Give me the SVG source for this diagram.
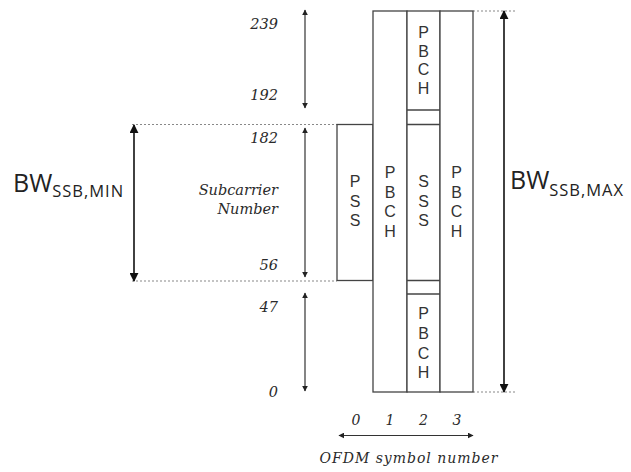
<svg xmlns="http://www.w3.org/2000/svg" width="631" height="472" viewBox="0 0 631 472">
<defs>
<marker id="ah" viewBox="0 0 10 10" refX="9" refY="5" markerWidth="6" markerHeight="6" orient="auto-start-reverse" markerUnits="userSpaceOnUse">
<path d="M0,0 L10,5 L0,10 z" fill="#222"/>
</marker>
<marker id="ahb" viewBox="0 0 10 10" refX="9" refY="5" markerWidth="9" markerHeight="9" orient="auto-start-reverse" markerUnits="userSpaceOnUse">
<path d="M0,0 L10,5 L0,10 z" fill="#111"/>
</marker>
</defs>
<style>
.box{fill:#fff;stroke:#444;stroke-width:1.3}
.sep{stroke:#444;stroke-width:1.3}
.dash{stroke:#888;stroke-width:1.2;stroke-dasharray:2,2;fill:none}
.ax{stroke:#333;stroke-width:1.2;fill:none}
.bw{stroke:#111;stroke-width:1.6;fill:none}
.lt{font-family:"Liberation Sans",Arial,sans-serif;font-size:16px;fill:#333;text-anchor:middle}
.num{font-family:"DejaVu Serif",serif;font-style:italic;font-size:14.5px;fill:#2a2a2a;text-anchor:end}
.sn{font-family:"DejaVu Serif",serif;font-style:italic;font-size:14.5px;fill:#2a2a2a;text-anchor:end}
.sym{font-family:"DejaVu Serif",serif;font-style:italic;font-size:14px;fill:#2a2a2a;text-anchor:middle}
.bwt{font-family:"Open Sans",sans-serif;font-size:25px;fill:#222}
.bws{font-size:16.5px}
</style>
<rect width="631" height="472" fill="#fff"/>

<g id="grid-dashes">
<line class="dash" x1="132" y1="124.5" x2="337" y2="124.5"/>
<line class="dash" x1="132" y1="281" x2="337" y2="281"/>
<line class="dash" x1="473" y1="11" x2="516" y2="11"/>
<line class="dash" x1="473" y1="392" x2="516" y2="392"/>
</g>

<g id="sym0-pss">
<rect class="box" x="337" y="124.5" width="36" height="156"/>
<text class="lt" x="355" y="187">P</text>
<text class="lt" x="355" y="206.5">S</text>
<text class="lt" x="355" y="226">S</text>
</g>

<g id="sym1-pbch">
<rect class="box" x="373" y="11" width="34" height="381"/>
<text class="lt" x="390" y="178">P</text>
<text class="lt" x="390" y="197.5">B</text>
<text class="lt" x="390" y="217">C</text>
<text class="lt" x="390" y="236.5">H</text>
</g>

<g id="sym2">
<rect class="box" x="407" y="11" width="33" height="381"/>
<line class="sep" x1="407" y1="110" x2="440" y2="110"/>
<line class="sep" x1="407" y1="124.5" x2="440" y2="124.5"/>
<line class="sep" x1="407" y1="280.5" x2="440" y2="280.5"/>
<line class="sep" x1="407" y1="294" x2="440" y2="294"/>
</g>
<g id="sym2-pbch-top">
<text class="lt" x="423.5" y="38">P</text>
<text class="lt" x="423.5" y="56.5">B</text>
<text class="lt" x="423.5" y="75">C</text>
<text class="lt" x="423.5" y="93.5">H</text>
</g>
<g id="sym2-sss">
<text class="lt" x="423.5" y="187">S</text>
<text class="lt" x="423.5" y="206.5">S</text>
<text class="lt" x="423.5" y="226">S</text>
</g>
<g id="sym2-pbch-bottom">
<text class="lt" x="423.5" y="319">P</text>
<text class="lt" x="423.5" y="339">B</text>
<text class="lt" x="423.5" y="359">C</text>
<text class="lt" x="423.5" y="378">H</text>
</g>

<g id="sym3-pbch">
<rect class="box" x="440" y="11" width="33" height="381"/>
<text class="lt" x="456.5" y="178">P</text>
<text class="lt" x="456.5" y="197.5">B</text>
<text class="lt" x="456.5" y="217">C</text>
<text class="lt" x="456.5" y="236.5">H</text>
</g>

<g id="connectors">
<line class="ax" x1="305" y1="10" x2="305" y2="108" marker-start="url(#ah)" marker-end="url(#ah)"/>
<line class="ax" x1="305" y1="128" x2="305" y2="277" marker-start="url(#ah)" marker-end="url(#ah)"/>
<line class="ax" x1="305" y1="293" x2="305" y2="391" marker-start="url(#ah)" marker-end="url(#ah)"/>
<line class="ax" x1="339" y1="435.5" x2="473" y2="435.5" marker-start="url(#ah)" marker-end="url(#ah)"/>
<line class="bw" x1="134" y1="125" x2="134" y2="281" marker-start="url(#ahb)" marker-end="url(#ahb)"/>
<line class="bw" x1="504" y1="11" x2="504" y2="392" marker-start="url(#ahb)" marker-end="url(#ahb)"/>
</g>

<g id="subcarrier-labels">
<text class="num" x="278" y="29">239</text>
<text class="num" x="278" y="100">192</text>
<text class="num" x="278" y="142.5">182</text>
<text class="num" x="278" y="270">56</text>
<text class="num" x="278" y="312">47</text>
<text class="num" x="278" y="397">0</text>
<text class="sn" x="278" y="195">Subcarrier</text>
<text class="sn" x="278" y="214">Number</text>
</g>

<g id="symbol-labels">
<text class="sym" x="356" y="425">0</text>
<text class="sym" x="390" y="425">1</text>
<text class="sym" x="423.5" y="425">2</text>
<text class="sym" x="457" y="425">3</text>
<text class="sym" x="408.5" y="463" textLength="178">OFDM symbol number</text>
</g>

<g id="bw-min">
<text class="bwt" x="13" y="192">BW<tspan class="bws" dy="5" letter-spacing="1">SSB,MIN</tspan></text>
</g>
<g id="bw-max">
<text class="bwt" x="510" y="189">BW<tspan class="bws" dy="7" letter-spacing="1">SSB,MAX</tspan></text>
</g>
</svg>
